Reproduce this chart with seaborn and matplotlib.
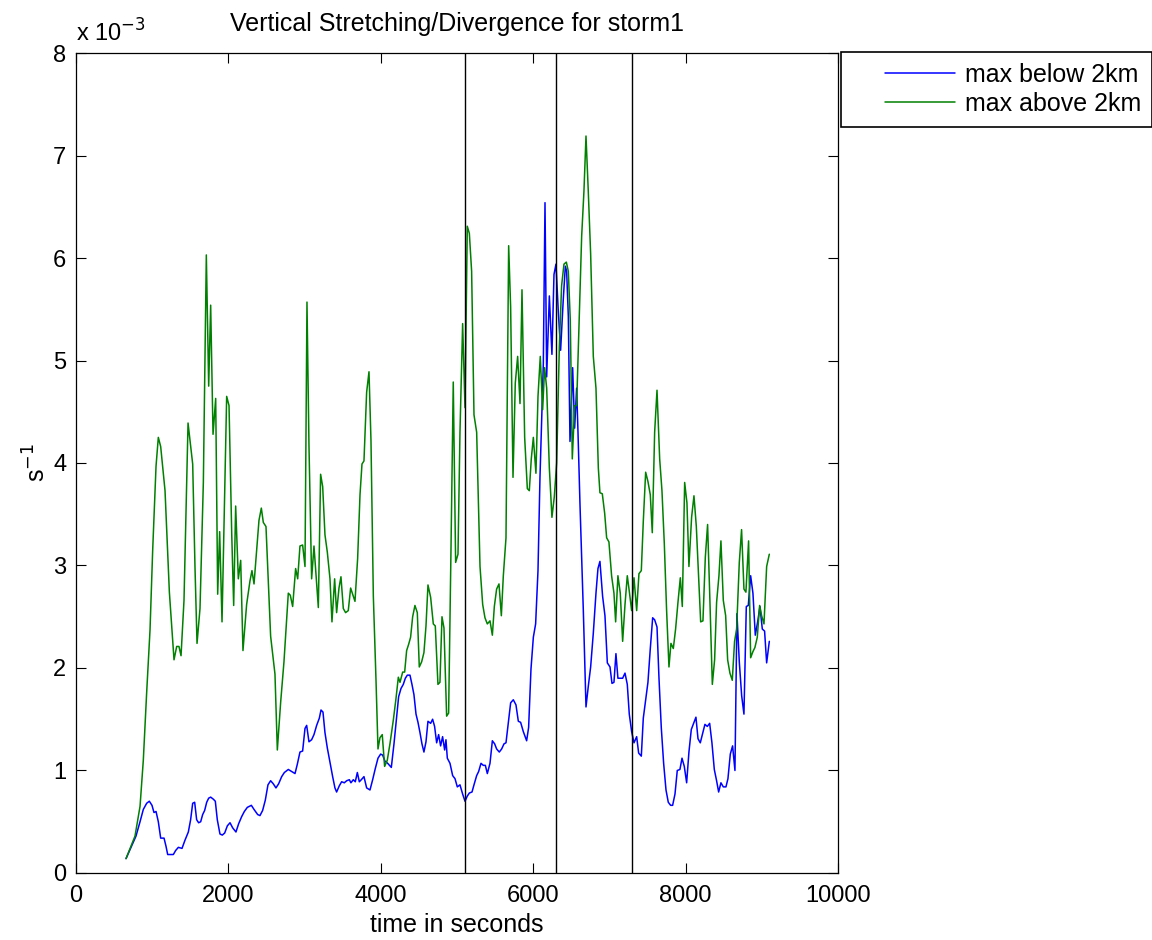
import numpy as np
import pandas as pd
import matplotlib
matplotlib.use("Agg")
import matplotlib.pyplot as plt
from matplotlib.ticker import FuncFormatter
from matplotlib.legend_handler import HandlerLine2D
import seaborn as sns

# values, y in units of 1e-3 s^-1
t_below = [656, 787, 840, 883, 927, 962, 997, 1023, 1050, 1080, 1111, 1155, 1181, 1203, 1277, 1308,
           1343, 1391, 1430, 1474, 1504, 1531, 1557, 1583, 1609, 1636, 1662, 1688, 1715, 1741, 1767,
           1802, 1828, 1854, 1889, 1920, 1951, 1986, 2021, 2056, 2099, 2134, 2174, 2209, 2248, 2301,
           2336, 2384, 2414, 2449, 2484, 2519, 2554, 2589, 2624, 2659, 2699, 2734, 2786,
           2874, 2904, 2939, 2974, 3005, 3027, 3057, 3092, 3123, 3158, 3193, 3215, 3241, 3267, 3298,
           3333, 3368, 3398, 3420, 3455, 3486, 3521, 3552, 3587, 3608, 3639, 3665, 3692, 3718, 3744,
           3779, 3814, 3858, 3893, 3928, 3963, 3998, 4024, 4055, 4090, 4138, 4173, 4208, 4234, 4265,
           4295, 4322, 4348, 4383, 4409, 4435, 4462, 4488, 4514, 4540, 4566, 4593, 4619, 4654, 4680,
           4706, 4733, 4759, 4785, 4811, 4838, 4855, 4873,
           4908, 4943, 4974, 5004, 5039, 5074, 5105, 5135, 5162, 5197, 5223, 5258, 5284, 5315, 5345,
           5372, 5398, 5433, 5464, 5494, 5520, 5555, 5586, 5617, 5643, 5674, 5704, 5739, 5774, 5805,
           5835, 5870, 5914, 5940, 5971, 6002, 6032, 6063, 6089, 6115, 6133, 6155, 6177, 6212, 6246,
           6273, 6299, 6330, 6360, 6395, 6422, 6439, 6461, 6483, 6518, 6544, 6570, 6588, 6614, 6658,
           6693, 6723, 6754, 6789, 6824, 6850, 6876, 6911, 6942, 6973, 7008, 7034, 7060, 7086, 7112,
           7139, 7174, 7205, 7235, 7261, 7292, 7323, 7358, 7384, 7419, 7445, 7480, 7506, 7537, 7568,
           7594, 7625, 7651, 7681, 7712, 7743, 7773, 7804, 7830, 7861, 7891, 7926, 7953, 7983, 8014,
           8044, 8075, 8110, 8136, 8163, 8193, 8224, 8254, 8285, 8316, 8346, 8377, 8407, 8434, 8464,
           8495, 8530, 8556, 8587, 8617, 8648, 8674, 8705, 8736, 8766, 8797, 8823, 8854, 8884, 8915,
           8946, 8976, 9007, 9037, 9064, 9099]
v_below = [0.14, 0.36, 0.50, 0.62, 0.68, 0.70, 0.66, 0.59, 0.60, 0.50, 0.34, 0.34, 0.26, 0.18, 0.18, 0.22,
           0.25, 0.24, 0.32, 0.40, 0.52, 0.68, 0.69, 0.52, 0.49, 0.50, 0.57, 0.61, 0.69, 0.73, 0.74,
           0.72, 0.70, 0.52, 0.38, 0.37, 0.39, 0.46, 0.49, 0.44, 0.40, 0.48, 0.55, 0.60, 0.64, 0.66,
           0.62, 0.57, 0.56, 0.61, 0.71, 0.86, 0.90, 0.87, 0.83, 0.87, 0.94, 0.98, 1.01,
           0.97, 1.06, 1.18, 1.19, 1.41, 1.44, 1.28, 1.30, 1.35, 1.44, 1.51, 1.59, 1.57, 1.37, 1.22,
           1.08, 0.94, 0.83, 0.79, 0.85, 0.89, 0.88, 0.90, 0.91, 0.88, 0.91, 0.89, 0.98, 0.89, 0.91,
           0.94, 0.83, 0.81, 0.91, 1.02, 1.12, 1.16, 1.15, 1.09, 1.07, 1.03, 1.26, 1.53, 1.72, 1.80,
           1.84, 1.90, 1.93, 1.93, 1.84, 1.74, 1.55, 1.47, 1.37, 1.26, 1.18, 1.28, 1.48, 1.46, 1.50,
           1.43, 1.27, 1.35, 1.24, 1.33, 1.20, 1.30, 1.12,
           1.07, 0.95, 0.92, 0.84, 0.86, 0.77, 0.70, 0.75, 0.78, 0.79, 0.86, 0.95, 0.99, 1.07, 1.05,
           1.05, 0.97, 1.07, 1.29, 1.26, 1.21, 1.18, 1.21, 1.26, 1.27, 1.47, 1.66, 1.69, 1.64, 1.48,
           1.47, 1.38, 1.29, 1.42, 1.99, 2.30, 2.43, 2.95, 3.86, 4.52, 4.97, 6.54, 4.84, 5.63, 5.06,
           5.84, 5.94, 5.47, 5.10, 5.60, 5.92, 5.87, 5.43, 4.21, 4.93, 4.34, 4.73, 4.30, 3.60, 2.56,
           1.62, 1.82, 2.01, 2.34, 2.73, 2.97, 3.04, 2.70, 2.51, 2.05, 2.01, 1.85, 1.86, 2.14, 1.90,
           1.90, 1.90, 1.95, 1.84, 1.55, 1.38, 1.27, 1.33, 1.17, 1.14, 1.51, 1.71, 1.86, 2.19, 2.49,
           2.47, 2.40, 1.90, 1.42, 1.07, 0.81, 0.69, 0.66, 0.66, 0.77, 1.00, 1.01, 1.12, 1.04, 0.88,
           1.18, 1.40, 1.47, 1.52, 1.31, 1.27, 1.36, 1.45, 1.43, 1.46, 1.27, 1.01, 0.90, 0.79, 0.88,
           0.84, 0.84, 0.92, 1.16, 1.24, 1.00, 2.53, 2.06, 1.73, 1.55, 2.60, 2.61, 2.90, 2.73, 2.32,
           2.45, 2.60, 2.38, 2.36, 2.05, 2.26]

t_above = [656, 774, 840, 883, 927, 971, 1006, 1050, 1080, 1111, 1168, 1225, 1255, 1286, 1321, 1351,
           1378, 1417, 1470, 1531, 1561, 1588, 1627, 1671, 1710, 1741, 1767, 1798, 1833, 1859, 1885,
           1916, 1977, 2008, 2043, 2069, 2095, 2130, 2161, 2191, 2239, 2283, 2309, 2336, 2401, 2432,
           2458, 2493, 2554, 2611, 2642, 2686, 2729, 2786, 2812, 2843, 2882, 2909, 2939, 2974, 3005,
           3031, 3057, 3092, 3123, 3180, 3210, 3237, 3267, 3298, 3333, 3359, 3394, 3420, 3451, 3477,
           3508, 3538, 3573, 3604, 3661, 3696, 3727, 3753, 3779, 3814, 3845, 3871, 3902, 3937, 3963,
           3989, 4019, 4050, 4085, 4120, 4164, 4199, 4230, 4252, 4287, 4313, 4339, 4365, 4391, 4418,
           4448, 4479, 4505, 4536, 4566, 4593, 4619, 4654, 4689, 4715, 4750, 4776, 4803, 4829, 4864,
           4890, 4921, 4951, 4982, 5013, 5039, 5074,
           5105, 5135, 5162, 5192, 5223, 5258, 5302, 5337, 5367, 5398, 5433, 5464, 5490, 5520, 5551,
           5582, 5608, 5643, 5678, 5704, 5735, 5765, 5796, 5827, 5853, 5888, 5923, 5949, 5975, 6002,
           6036, 6063, 6093, 6124, 6150, 6177, 6212, 6246, 6277, 6308, 6343, 6373, 6404, 6435, 6461,
           6487, 6513, 6544, 6570, 6605, 6636, 6666, 6693, 6723, 6754, 6789, 6824, 6855, 6876, 6907,
           6938, 6964, 6994, 7029, 7060, 7082, 7112, 7143,
           7174, 7205, 7235, 7261, 7292, 7323, 7358, 7388, 7419, 7445, 7476, 7506, 7537, 7563, 7594,
           7625, 7660, 7690, 7721, 7751, 7782, 7808, 7839, 7869, 7900, 7931, 7957, 7988, 8018, 8044,
           8079, 8110, 8141, 8171, 8198, 8228, 8259, 8289, 8320, 8351, 8381, 8407, 8438, 8464, 8495,
           8526, 8552, 8582, 8613, 8643, 8670, 8705, 8735, 8766, 8792, 8827, 8854, 8884, 8910, 8941,
           8972, 8998, 9029, 9064, 9099]
v_above = [0.14, 0.36, 0.65, 1.10, 1.76, 2.37, 3.15, 3.97, 4.25, 4.16, 3.73, 2.74, 2.41, 2.08, 2.21, 2.21,
           2.12, 2.66, 4.39, 3.99, 2.99, 2.24, 2.58, 3.81, 6.03, 4.75, 5.54, 4.28, 4.63, 2.72, 3.33,
           2.45, 4.65, 4.56, 3.32, 2.61, 3.58, 2.87, 3.05, 2.17, 2.62, 2.85, 2.95, 2.82, 3.44, 3.56,
           3.42, 3.38, 2.31, 1.94, 1.20, 1.67, 2.06, 2.73, 2.71, 2.60, 2.97, 2.87, 3.19, 3.20, 2.99,
           5.57, 4.18, 2.87, 3.19, 2.59, 3.89, 3.77, 3.30, 3.13, 2.87, 2.45, 2.87, 2.54, 2.78, 2.89,
           2.58, 2.54, 2.56, 2.78, 2.65, 3.07, 3.69, 3.99, 4.02, 4.69, 4.89, 4.22, 2.70, 1.88, 1.21,
           1.32, 1.35, 1.04, 1.10, 1.26, 1.49, 1.70, 1.91, 1.86, 1.96, 1.96, 2.17, 2.23, 2.30, 2.50,
           2.61, 2.54, 2.01, 2.06, 2.15, 2.41, 2.81, 2.69, 2.43, 2.41, 1.84, 1.86, 2.50, 2.39, 1.53,
           1.56, 3.15, 4.79, 3.03, 3.11, 4.30, 5.36,
           4.54, 6.31, 6.24, 5.87, 4.47, 4.30, 2.99, 2.62, 2.49, 2.43, 2.46, 2.32, 2.60, 2.77, 2.82,
           2.51, 2.90, 3.27, 6.12, 5.52, 3.86, 4.78, 5.04, 4.58, 5.69, 4.25, 3.75, 3.73, 4.04, 4.25,
           3.90, 4.65, 5.04, 4.52, 4.93, 4.73, 3.95, 3.47, 3.67, 4.00, 5.13, 5.73, 5.94, 5.96, 5.87,
           5.39, 4.04, 4.56, 4.56, 5.43, 6.21, 6.65, 7.19, 6.65, 6.04, 5.04, 4.73, 3.95, 3.71, 3.70,
           3.51, 3.27, 3.23, 2.90, 2.73, 2.45, 2.90, 2.73,
           2.26, 2.62, 2.90, 2.75, 2.56, 2.88, 2.56, 2.92, 2.95, 3.43, 3.91, 3.82, 3.69, 3.32, 4.30,
           4.71, 4.04, 3.73, 3.21, 2.56, 2.01, 2.24, 2.19, 2.38, 2.64, 2.88, 2.60, 3.81, 3.61, 2.99,
           3.47, 3.68, 3.38, 2.90, 2.45, 2.46, 3.08, 3.40, 2.64, 1.84, 2.08, 2.64, 2.90, 3.24, 2.66,
           2.51, 2.08, 1.95, 1.88, 2.26, 2.38, 3.03, 3.35, 2.77, 2.74, 3.24, 2.10, 2.16, 2.20, 2.30,
           2.61, 2.51, 2.43, 2.99, 3.11]

series_names = ["max below 2km", "max above 2km"]
series_colors = ["#0000ff", "#008000"]
marker_times = [5100, 6300, 7300]

df = pd.concat([
    pd.DataFrame({"time": t_below, "value": np.array(v_below) * 1e-3, "series": series_names[0]}),
    pd.DataFrame({"time": t_above, "value": np.array(v_above) * 1e-3, "series": series_names[1]}),
], ignore_index=True)

sns.set_theme(style="white")
plt.rcParams["font.family"] = ["Liberation Sans", "DejaVu Sans"]
plt.rcParams["axes.unicode_minus"] = False
plt.rcParams["text.color"] = "black"
plt.rcParams["axes.labelcolor"] = "black"

fig = plt.figure(figsize=(11.52, 9.4), dpi=100)
ax = fig.add_axes([0.066, 0.0713, 0.6614, 0.8723])

sns.lineplot(data=df, x="time", y="value", hue="series", hue_order=series_names,
             palette=dict(zip(series_names, series_colors)), estimator=None, sort=False,
             linewidth=1.1, ax=ax)

for t in marker_times:
    ax.axvline(t, color="black", linewidth=1.0)

ax.set_xlim(0, 10000)
ax.set_ylim(0, 8e-3)
ax.set_xticks(np.arange(0, 10001, 2000))
ax.set_yticks(np.arange(0, 8.1e-3, 1e-3))
ax.yaxis.set_major_formatter(FuncFormatter(lambda v, p: f"{v * 1e3:g}"))
ax.tick_params(direction="in", top=True, right=True, bottom=True, left=True,
               length=7, width=0.8, labelsize=17, colors="black")
ax.tick_params(axis="x", pad=9)
ax.tick_params(axis="y", pad=7)
for s in ax.spines.values():
    s.set_color("black")
    s.set_linewidth(0.9)

ax.text(0.0, 1.008, r"x 10$^{-3}$", transform=ax.transAxes, fontsize=17,
        ha="left", va="bottom")
ax.set_title("Vertical Stretching/Divergence for storm1", fontsize=18, pad=16)
ax.set_xlabel("time in seconds", fontsize=18, labelpad=4)
ax.set_ylabel(r"s$^{-1}$", fontsize=18, labelpad=2)

leg = ax.legend(loc="upper left", bbox_to_anchor=(1.004, 1.0015), borderaxespad=0,
                fancybox=False, edgecolor="black", fontsize=18, handlelength=4.1,
                handletextpad=0.4, framealpha=1, borderpad=0.45, labelspacing=0.2,
                handler_map={plt.Line2D: HandlerLine2D(xpad=1.3)})
leg.get_frame().set_linewidth(1.2)

fig.savefig("out.png", dpi=100)
